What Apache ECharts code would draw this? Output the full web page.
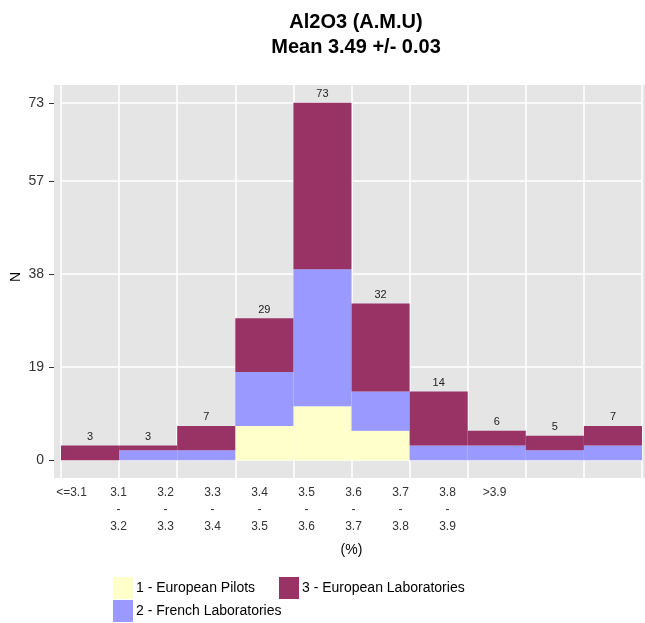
<!DOCTYPE html>
<html>
<head>
<meta charset="utf-8">
<script src="https://cdn.jsdelivr.net/npm/echarts@6/dist/echarts.min.js"></script>
<style>
  html, body { margin: 0; padding: 0; background: #fff; }
  #chart { width: 645px; height: 623px; }
</style>
</head>
<body>
<div id="chart"></div>
<script>
// bins
const categories = ["<=3.1", "3.1-3.2", "3.2-3.3", "3.3-3.4", "3.4-3.5", "3.5-3.6", "3.6-3.7", "3.7-3.8", "3.8-3.9", ">3.9"];
const binLabels = ["<=3.1", "3.1\n-\n3.2", "3.2\n-\n3.3", "3.3\n-\n3.4", "3.4\n-\n3.5", "3.5\n-\n3.6", "3.6\n-\n3.7", "3.7\n-\n3.8", "3.8\n-\n3.9", ">3.9"];
// counts per group
const europeanPilots = [0, 0, 0, 7, 11, 6, 0, 0, 0, 0];
const frenchLabs = [0, 2, 2, 11, 28, 8, 3, 3, 2, 3];
const europeanLabs = [3, 1, 5, 11, 34, 18, 11, 3, 3, 4];
const yTicks = [0, 19, 38, 57, 73];

const totals = categories.map((c, i) => europeanPilots[i] + frenchLabs[i] + europeanLabs[i]);

const chart = echarts.init(document.getElementById("chart"));
const font = "Liberation Sans, Arial, sans-serif";

const option = {
  backgroundColor: "#ffffff",
  animation: false,
  title: {
    text: "Al2O3 (A.M.U)\nMean 3.49 +/- 0.03",
    left: 351,
    top: 5,
    textAlign: "center",
    textStyle: { fontFamily: font, fontSize: 20, fontWeight: "bold", color: "#000", lineHeight: 25 }
  },
  graphic: [
    // grey panel
    { type: "rect", z: -10, shape: { x: 54, y: 85, width: 591, height: 393 }, style: { fill: "#E5E5E5" } },
    // y axis title
    {
      type: "text", x: 16, y: 277, rotation: Math.PI / 2,
      style: { text: "N", fontFamily: font, fontSize: 14, fill: "#000", align: "center", verticalAlign: "middle" }
    }
  ],
  legend: [
    {
      orient: "vertical", left: 113, top: 577, padding: 0, itemGap: 1, itemWidth: 20, itemHeight: 22,
      icon: "rect",
      data: ["1 - European Pilots", "2 - French Laboratories"],
      textStyle: { fontFamily: font, fontSize: 14, color: "#000", padding: [0, 0, 0, -2] },
      selectedMode: false
    },
    {
      orient: "vertical", left: 279, top: 577, padding: 0, itemGap: 1, itemWidth: 20, itemHeight: 22,
      icon: "rect",
      data: ["3 - European Laboratories"],
      textStyle: { fontFamily: font, fontSize: 14, color: "#000", padding: [0, 0, 0, -2] },
      selectedMode: false
    }
  ],
  grid: [
    { left: 61, right: 3, top: 85, height: 393, containLabel: false, outerBoundsMode: "none" },
    { left: 48, width: 470, top: 85, height: 393, containLabel: false, outerBoundsMode: "none" }
  ],
  xAxis: [
    {
      type: "category", gridIndex: 0, data: categories,
      axisLine: { show: false }, axisTick: { show: false }, axisLabel: { show: false },
      splitLine: { show: true, lineStyle: { color: "#ffffff", width: 1.5 } },
      name: "(%)", nameLocation: "middle", nameGap: 65, nameMoveOverlap: false,
      nameTextStyle: { fontFamily: font, fontSize: 14, color: "#000" }
    },
    {
      type: "category", gridIndex: 1, data: binLabels,
      axisLine: { show: false }, axisTick: { show: false },
      axisLabel: { fontFamily: font, fontSize: 12, color: "#333", lineHeight: 17, margin: 6, interval: 0 }
    }
  ],
  yAxis: [
    {
      type: "value", gridIndex: 0, min: -3.65, max: 76.65, offset: 7,
      axisLine: { show: false },
      axisTick: { show: true, length: 5, lineStyle: { color: "#333" }, customValues: yTicks },
      axisLabel: { fontFamily: font, fontSize: 14, color: "#333", margin: 10, customValues: yTicks, showMinLabel: true, showMaxLabel: true },
      splitLine: { show: true, lineStyle: { color: "#ffffff", width: 1.5 } }
    },
    { type: "value", gridIndex: 1, show: false }
  ],
  series: [
    {
      name: "1 - European Pilots", type: "bar", stack: "n", data: europeanPilots,
      barCategoryGap: 0, itemStyle: { color: "#FFFFCC" }
    },
    {
      name: "2 - French Laboratories", type: "bar", stack: "n", data: frenchLabs,
      barCategoryGap: 0, itemStyle: { color: "#9999FF" }
    },
    {
      name: "3 - European Laboratories", type: "bar", stack: "n", data: europeanLabs,
      barCategoryGap: 0, itemStyle: { color: "#993366" },
      label: {
        show: true, position: "top", distance: 3,
        fontFamily: font, fontSize: 11, color: "#222",
        formatter: (p) => String(totals[p.dataIndex])
      }
    }
  ]
};
chart.setOption(option);
</script>
</body>
</html>
